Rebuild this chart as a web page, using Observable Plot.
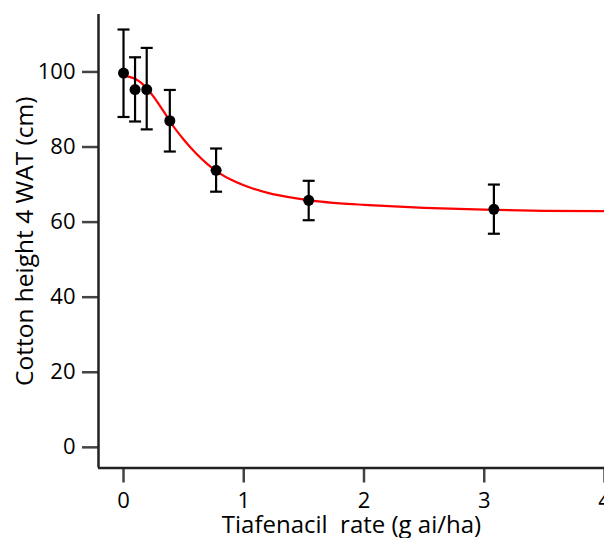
<!DOCTYPE html>
<html>
<head>
<meta charset="utf-8">
<script src="https://cdn.jsdelivr.net/npm/d3@7"></script>
<script src="https://cdn.jsdelivr.net/npm/@observablehq/plot@0.6"></script>
<style>
  html, body { margin: 0; padding: 0; background: #fff; }
</style>
</head>
<body>
<div id="chart"></div>
<script>
const doses   = [0, 0.096, 0.193, 0.385, 0.77, 1.54, 3.08];
const heights = [99.7, 95.3, 95.3, 87.0, 73.8, 65.8, 63.4];
const upper   = [111.3, 103.9, 106.4, 95.2, 79.6, 71.0, 70.0];
const lower   = [88.0, 86.8, 84.7, 78.8, 68.1, 60.5, 56.9];

// Fitted curve
const fitX = [0, 0.05, 0.1, 0.15, 0.2, 0.25, 0.3, 0.35, 0.4, 0.5, 0.6, 0.7, 0.8, 0.9, 1.0, 1.2, 1.4, 1.6, 1.8, 2.0, 2.5, 3.0, 3.5, 4.0];
const fitY = [98.9, 98.7, 98.1, 97.0, 95.4, 93.4, 91.1, 88.7, 86.2, 82.0, 78.4, 75.4, 73.0, 71.2, 69.8, 67.8, 66.5, 65.6, 65.0, 64.6, 63.8, 63.3, 63.0, 62.9];

const xTicks = [0, 1, 2, 3, 4];
const yTicks = [0, 20, 40, 60, 80, 100];
const xDomain = [-0.208, 4.0];
const yDomain = [-5.5, 115.3];
const xLabel = "Tiafenacil\u00a0 rate (g ai/ha)";
const yLabel = "Cotton height 4 WAT (cm)";

const obs = doses.map((d, i) => ({x: d, y: heights[i], lo: lower[i], hi: upper[i]}));
const fit = fitX.map((d, i) => ({x: d, y: fitY[i]}));

const cap = {
  draw(ctx, size) {
    const w = Math.sqrt(size / Math.PI);
    ctx.moveTo(-w, 0);
    ctx.lineTo(w, 0);
  }
};

const font = "'Open Sans', 'Noto Sans', sans-serif";

const chart = Plot.plot({
  width: 604,
  height: 538,
  marginLeft: 98,
  marginRight: 0,
  marginTop: 14,
  marginBottom: 70.5,
  style: {fontFamily: font, fontSize: "22px", background: "#fff", color: "#000", overflow: "hidden"},
  x: {domain: xDomain},
  y: {domain: yDomain},
  marks: [
    Plot.axisX({ticks: xTicks, tickSize: 15, tickPadding: 9, fontSize: 22, stroke: "#444", strokeWidth: 2.5, tickFormat: d => String(d), label: null, fill: "#000"}),
    Plot.axisY({ticks: yTicks, tickSize: 16, tickPadding: 7, fontSize: 22, stroke: "#444", strokeWidth: 2.5, tickFormat: d => String(d), label: null, fill: "#000"}),
    Plot.ruleX([xDomain[0]], {stroke: "#222", strokeWidth: 2.5}),
    Plot.ruleY([yDomain[0]], {stroke: "#222", strokeWidth: 2.5}),
    Plot.line(fit, {x: "x", y: "y", stroke: "#ff0000", strokeWidth: 2.2, curve: "monotone-x"}),
    Plot.ruleX(obs, {x: "x", y1: "lo", y2: "hi", stroke: "#000", strokeWidth: 2.2}),
    Plot.dot(obs, {x: "x", y: "hi", symbol: cap, r: 6, stroke: "#000", fill: "none", strokeWidth: 2.2}),
    Plot.dot(obs, {x: "x", y: "lo", symbol: cap, r: 6, stroke: "#000", fill: "none", strokeWidth: 2.2}),
    Plot.dot(obs, {x: "x", y: "y", r: 5.5, fill: "#000", stroke: "none"}),
    Plot.text([yLabel], {frameAnchor: "left", rotate: -90, dx: -73, fontSize: 24.5, fill: "#000", textAnchor: "middle", lineAnchor: "middle"}),
    Plot.text([xLabel], {frameAnchor: "bottom", dy: 57.5, lineAnchor: "middle", fontSize: 24, fill: "#000", textAnchor: "middle"})
  ]
});

document.getElementById("chart").appendChild(chart);
</script>
</body>
</html>
